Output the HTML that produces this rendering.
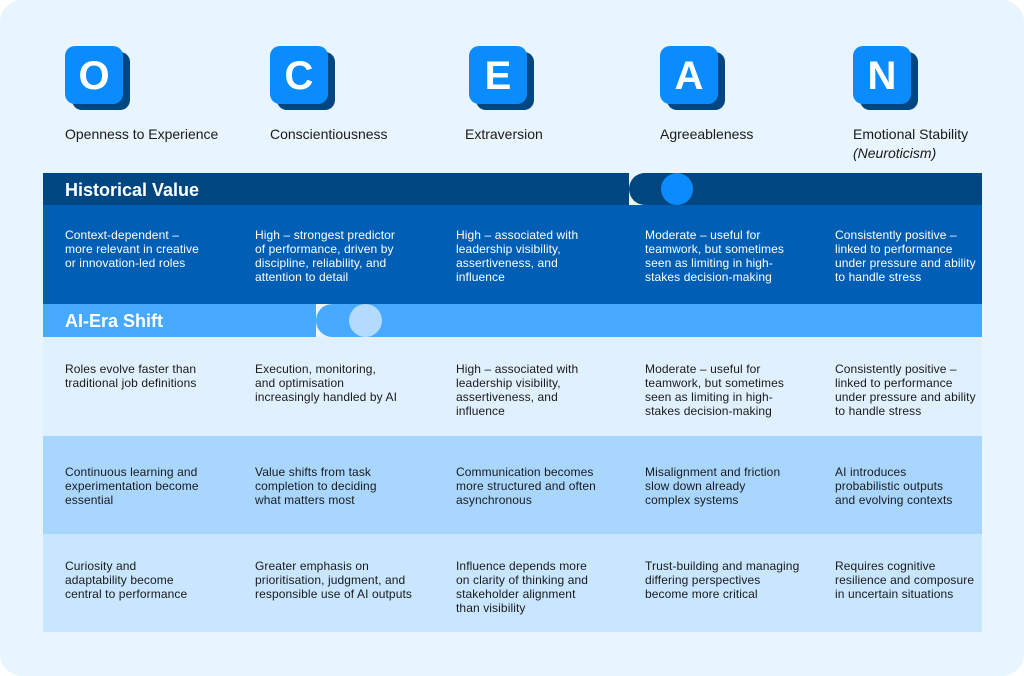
<!DOCTYPE html>
<html><head><style>
body{margin:0;width:1024px;height:676px;background:#fff;font-family:"Liberation Sans",sans-serif;overflow:hidden}
.card{position:absolute;left:0;top:0;width:1024px;height:676px;background:#e8f4fe;border-radius:22px}
.ic{position:absolute;top:46px;width:58px;height:58px}
.ic .s{position:absolute;left:7px;top:6px;width:58px;height:58px;background:#004680;border-radius:10px}
.ic .f{position:absolute;left:0;top:0;width:58px;height:58px;background:#0a8cff;border-radius:10px;color:#fff;font-size:40px;font-weight:bold;line-height:60px;text-align:center}
.lbl{position:absolute;top:125px;font-size:14px;color:#1a1a1a;line-height:19px}
.band{position:absolute;left:43px;width:939px}
.t{position:absolute;font-size:12px;letter-spacing:0.1px;line-height:14px;width:180px;white-space:nowrap}
.h{position:absolute;left:65px;font-size:18px;font-weight:bold;color:#fff}
.c{position:absolute;width:32px;height:32px;border-radius:50%}
</style></head><body>
<div class="card"></div>
<div class="ic" style="left:65px"><div class="s"></div><div class="f">O</div></div>
<div class="ic" style="left:270px"><div class="s"></div><div class="f">C</div></div>
<div class="ic" style="left:469px"><div class="s"></div><div class="f">E</div></div>
<div class="ic" style="left:660px"><div class="s"></div><div class="f">A</div></div>
<div class="ic" style="left:853px"><div class="s"></div><div class="f">N</div></div>
<div class="lbl" style="left:65px">Openness to Experience</div>
<div class="lbl" style="left:270px">Conscientiousness</div>
<div class="lbl" style="left:465px">Extraversion</div>
<div class="lbl" style="left:660px">Agreeableness</div>
<div class="lbl" style="left:853px">Emotional Stability<br><i>(Neuroticism)</i></div>

<div class="band" style="top:173px;height:32px;background:#004680"></div>
<div style="position:absolute;left:629px;top:173px;width:16px;height:32px;background:#e8f4fe"></div>
<div class="c" style="left:629px;top:173px;background:#004680"></div>
<div class="c" style="left:661px;top:173px;background:#0a8cff"></div>
<div class="h" style="top:180px">Historical Value</div>
<div class="band" style="top:205px;height:99px;background:#005fb5"></div>
<div class="band" style="top:304px;height:33px;background:#47a9ff"></div>
<div style="position:absolute;left:316px;top:304px;width:16px;height:33px;background:#e8f4fe"></div>
<div class="c" style="left:316px;top:304px;width:33px;height:33px;background:#47a9ff"></div>
<div class="c" style="left:349px;top:304px;width:33px;height:33px;background:#b3dbff"></div>
<div class="h" style="top:311px">AI-Era Shift</div>
<div class="band" style="top:337px;height:99px;background:#e0f0ff"></div>
<div class="band" style="top:436px;height:98px;background:#a8d6ff"></div>
<div class="band" style="top:534px;height:98px;background:#c8e6ff"></div>

<div style="color:#fff">
<div class="t" style="left:65px;top:228px">Context-dependent –<br>more relevant in creative<br>or innovation-led roles</div>
<div class="t" style="left:255px;top:228px">High – strongest predictor<br>of performance, driven by<br>discipline, reliability, and<br>attention to detail</div>
<div class="t" style="left:456px;top:228px">High – associated with<br>leadership visibility,<br>assertiveness, and<br>influence</div>
<div class="t" style="left:645px;top:228px">Moderate – useful for<br>teamwork, but sometimes<br>seen as limiting in high-<br>stakes decision-making</div>
<div class="t" style="left:835px;top:228px;width:150px">Consistently positive –<br>linked to performance<br>under pressure and ability<br>to handle stress</div>
</div>
<div style="color:#1a1a1a">
<div class="t" style="left:65px;top:362px">Roles evolve faster than<br>traditional job definitions</div>
<div class="t" style="left:255px;top:362px">Execution, monitoring,<br>and optimisation<br>increasingly handled by AI</div>
<div class="t" style="left:456px;top:362px">High – associated with<br>leadership visibility,<br>assertiveness, and<br>influence</div>
<div class="t" style="left:645px;top:362px">Moderate – useful for<br>teamwork, but sometimes<br>seen as limiting in high-<br>stakes decision-making</div>
<div class="t" style="left:835px;top:362px;width:150px">Consistently positive –<br>linked to performance<br>under pressure and ability<br>to handle stress</div>

<div class="t" style="left:65px;top:465px">Continuous learning and<br>experimentation become<br>essential</div>
<div class="t" style="left:255px;top:465px">Value shifts from task<br>completion to deciding<br>what matters most</div>
<div class="t" style="left:456px;top:465px">Communication becomes<br>more structured and often<br>asynchronous</div>
<div class="t" style="left:645px;top:465px">Misalignment and friction<br>slow down already<br>complex systems</div>
<div class="t" style="left:835px;top:465px;width:150px">AI introduces<br>probabilistic outputs<br>and evolving contexts</div>

<div class="t" style="left:65px;top:559px">Curiosity and<br>adaptability become<br>central to performance</div>
<div class="t" style="left:255px;top:559px">Greater emphasis on<br>prioritisation, judgment, and<br>responsible use of AI outputs</div>
<div class="t" style="left:456px;top:559px">Influence depends more<br>on clarity of thinking and<br>stakeholder alignment<br>than visibility</div>
<div class="t" style="left:645px;top:559px">Trust-building and managing<br>differing perspectives<br>become more critical</div>
<div class="t" style="left:835px;top:559px;width:150px">Requires cognitive<br>resilience and composure<br>in uncertain situations</div>
</div>
</body></html>
